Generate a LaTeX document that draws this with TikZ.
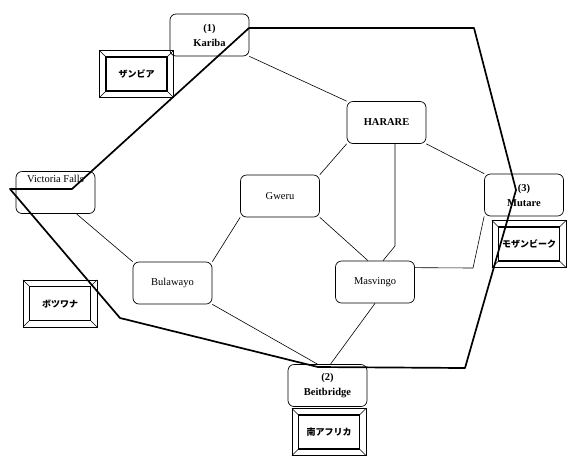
\documentclass[tikz,border=0pt]{standalone}
\usepackage{fontspec}
\setmainfont{Liberation Serif}
\newfontfamily\jpfont{Noto Sans CJK JP}
\usetikzlibrary{calc}

\tikzset{
  city/.style={draw, line width=0.7pt, rounded corners=6pt, minimum width=79pt, minimum height=42pt,
    align=center, inner sep=1pt, font=\fontsize{10.5}{15}\selectfont},
  capital/.style={city, font=\fontsize{10.5}{15}\selectfont\bfseries},
  land/.style={draw, line width=1.1pt, minimum width=61pt, minimum height=34pt,
    inner sep=0pt, font=\jpfont\fontsize{9}{10}\selectfont\bfseries},
  link/.style={line width=0.6pt},
  border/.style={line width=1.7pt, line join=round}
}

% country frame: inner box, outer box, bevel corners
\newcommand{\landbox}[4]{%
  \node[land] (#1) at (#2,#3) {#4};
  \draw[line width=0.7pt] ($(#1.north west)+(-6,-6)$) coordinate (#1o1)
    rectangle ($(#1.south east)+(6,6)$) coordinate (#1o2);
  \draw[line width=0.6pt] (#1.north west) -- (#1o1)
    (#1.south east) -- (#1o2)
    (#1.north east) -- (#1o1 -| #1o2)
    (#1.south west) -- (#1o2 -| #1o1);
}

\begin{document}
\begin{tikzpicture}[x=1pt,y=-1pt]
\useasboundingbox (0,0) rectangle (569,459);

% cities
\node[capital] (kariba) at (209.5,35) {(1)\\Kariba};
\node[capital] (harare) at (386.5,122.5) {HARARE};
\node[city, label={[anchor=north,inner sep=4pt,font=\fontsize{10.5}{12}\selectfont]north:Victoria Falls}] (vf) at (55.5,192.5) {};
\node[city] (gweru) at (280,196) {Gweru};
\node[capital] (mutare) at (524,195) {(3)\\Mutare};
\node[city] (bulawayo) at (172.5,283) {Bulawayo};
\node[city] (masvingo) at (375,282) {Masvingo};
\node[capital] (beit) at (327.5,385.5) {(2)\\Beitbridge};

% neighbouring countries
\landbox{zambia}{136.5}{74}{ザンビア}
\landbox{botswana}{60}{303.5}{ボツワナ}
\landbox{mozambique}{529}{244}{モザンビーク}
\landbox{southafrica}{329}{432}{南アフリカ}

% roads
\coordinate (hbend) at (395,246);
\coordinate (mbend) at (473,268);
\draw[link] (kariba.south east) -- (harare.north west);
\draw[link] (harare.south west) -- (gweru.north east);
\draw[link] (harare.south east) -- (mutare.north west);
\draw[link] (harare.south -| hbend) -- (hbend) -- ($(masvingo.north)+(8,0)$);
\draw[link] (gweru.south east) -- ($(masvingo.north)+(-7,0)$);
\draw[link] (gweru.south west) -- (bulawayo.north east);
\draw[link] ($(vf.south)+(21,0)$) -- (bulawayo.north west);
\draw[link] (bulawayo.south east) -- ($(beit.north)+(-10,0)$);
\draw[link] (masvingo.south) -- ($(beit.north)+(3,0)$);
\draw[link] ($(masvingo.north east)+(0,7)$) -- (mbend) -- (mutare.south west);

% border
\coordinate (b1) at (249,28);
\coordinate (b2) at (474,28);
\coordinate (b3) at (516,190);
\coordinate (b4) at (465,368);
\coordinate (b5) at (318,367);
\coordinate (b6) at (120,318);
\coordinate (b7) at (10,189);
\coordinate (b8) at (72,189);
\draw[border] (b1) -- (b2) -- (b3) -- (b4) -- (b5) -- (b6) -- (b7) -- (b8) -- cycle;
\end{tikzpicture}
\end{document}
